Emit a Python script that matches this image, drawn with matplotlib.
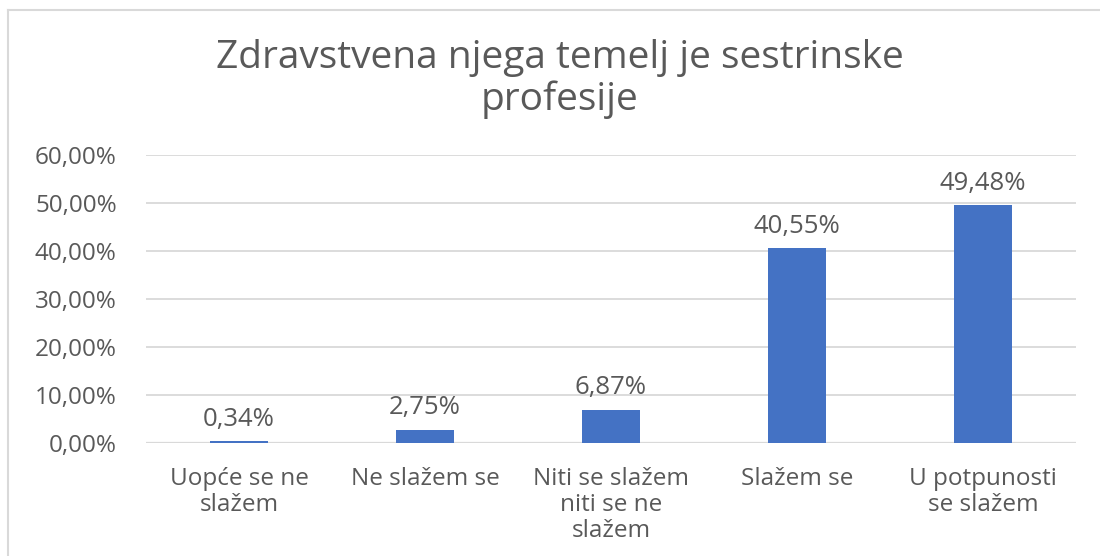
import matplotlib
matplotlib.use("Agg")
import matplotlib.pyplot as plt
from matplotlib.lines import Line2D
from matplotlib.ticker import FuncFormatter

categories = ["Uopće se ne\nslažem", "Ne slažem se", "Niti se slažem\nniti se ne\nslažem",
              "Slažem se", "U potpunosti\nse slažem"]
values = [0.34, 2.75, 6.87, 40.55, 49.48]
yticks = [0, 10, 20, 30, 40, 50, 60]
title = "Zdravstvena njega temelj je sestrinske\nprofesije"

plt.rcParams['font.family'] = ['Open Sans', 'DejaVu Sans']
txt = "#595959"
bar_c = "#4472C4"
grid_c = "#d9d9d9"

W, H = 1100, 556
fig = plt.figure(figsize=(W / 100, H / 100), dpi=100)
ax = fig.add_axes([146 / W, 1 - 443 / H, (1076 - 146) / W, (443 - 155) / H])

x = list(range(len(categories)))
ax.bar(x, values, width=0.317, color=bar_c, zorder=3)
ax.set_xlim(-0.5, len(categories) - 0.5)
ax.set_ylim(0, 60)
ax.set_yticks(yticks)
ax.yaxis.set_major_formatter(FuncFormatter(lambda v, p: f"{v:.2f}".replace(".", ",") + "%"))
ax.set_xticks(x)
ax.set_xticklabels(categories, linespacing=1.12)
ax.tick_params(axis='both', length=0, labelsize=17.5, colors=txt)
ax.tick_params(axis='y', pad=21)
ax.tick_params(axis='x', pad=17)
ax.grid(axis='y', color=grid_c, linewidth=1.3, zorder=0)
for s in ax.spines.values():
    s.set_visible(False)
ax.axhline(0, color=grid_c, linewidth=1.6, zorder=2)

for xi, v in zip(x, values):
    ax.annotate(f"{v:.2f}".replace(".", ",") + "%", (xi, v), xytext=(0, 7),
                textcoords="offset points", ha="center", va="bottom",
                fontsize=18.5, color=txt)

fig.text(560 / W, 1 - 79 / H, title, ha="center", va="center", fontsize=28,
         color=txt, linespacing=1.12)

fig.add_artist(Line2D([8 / W, 8 / W], [0, 1 - 10 / H], color=grid_c, linewidth=1.5,
                      transform=fig.transFigure))
fig.add_artist(Line2D([8 / W, 1], [1 - 10 / H, 1 - 10 / H], color=grid_c, linewidth=1.5,
                      transform=fig.transFigure))

fig.savefig("out.png", dpi=100, facecolor="white")
